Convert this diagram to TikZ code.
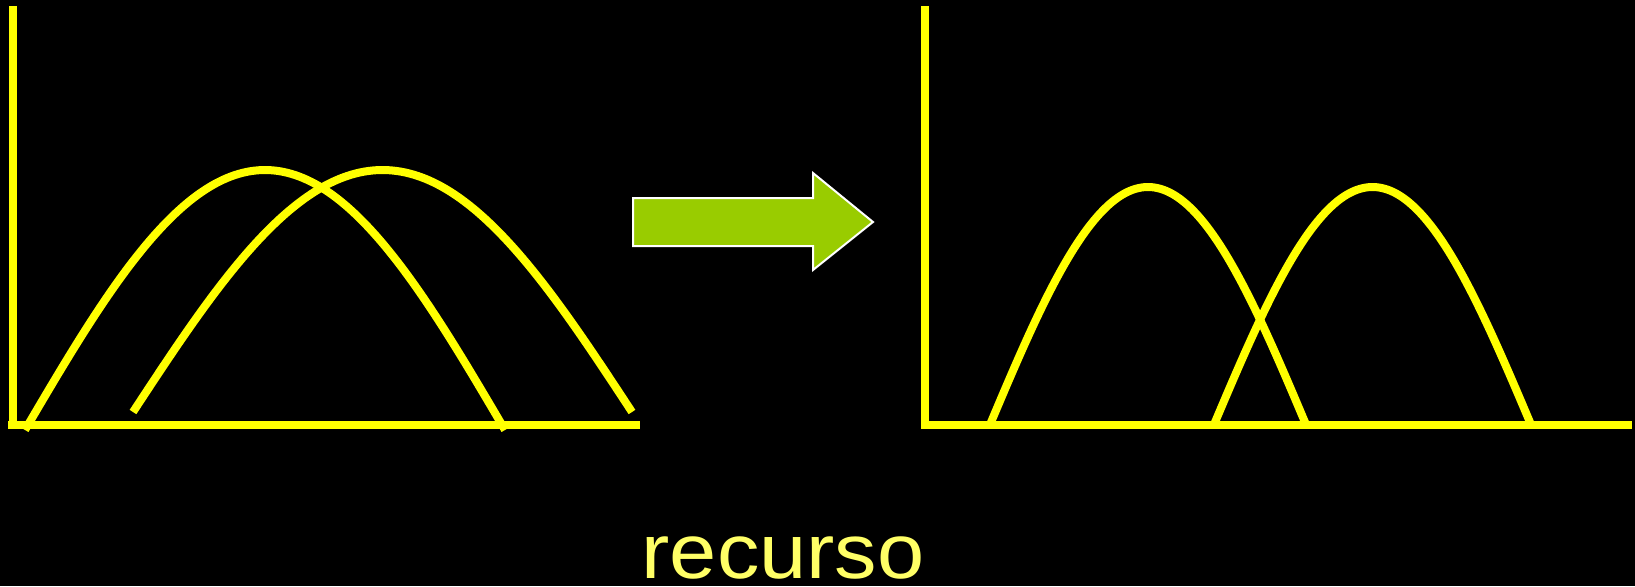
\documentclass[tikz,border=0pt]{standalone}
\usepackage{fontspec}
\setmainfont{Liberation Sans}
\usepackage{tikz}
\usetikzlibrary{positioning}
\definecolor{LineYellow}{HTML}{FFFF00}
\definecolor{TextYellow}{HTML}{FFFF66}
\definecolor{ArrowGreen}{HTML}{99CC00}
\begin{document}
\begin{tikzpicture}[
x=0.5pt,y=-0.5pt,
axis/.style={draw=LineYellow,line width=4pt},
arch/.style={draw=LineYellow,line width=4pt,samples=120,smooth},
bigarrow/.style={fill=ArrowGreen,draw=white,line width=1pt},
label/.style={text=TextYellow,font=\fontsize{40pt}{40pt}\selectfont,anchor=base,inner sep=0pt}
]
\fill[black] (0,0) rectangle (1635,586);
\useasboundingbox (0,0) rectangle (1635,586);
% axes
\draw[axis] (12.5,6) -- (12.5,429);
\draw[axis] (8,425) -- (640,425);
\draw[axis] (925,6) -- (925,429);
\draw[axis] (921,425) -- (1632,425);
% arches: start/end/base/top
\foreach \a/\b/\base/\top in {25/505/430/170,133/632/412/170,989/1307/427/187,1213/1532/427/187}
  \draw[arch] plot[domain=\a:\b] (\x,{\base-(\base-\top)*sin(180/(\b-\a)*(\x-\a))});
% arrow
\draw[bigarrow] (633,198) -- (813,198) -- (813,173) -- (873,222) -- (813,270) -- (813,246) -- (633,246) -- cycle;
\node[label] (res) at (783,578) {\scalebox{1.06}[0.97]{recurso}};
\end{tikzpicture}
\end{document}
